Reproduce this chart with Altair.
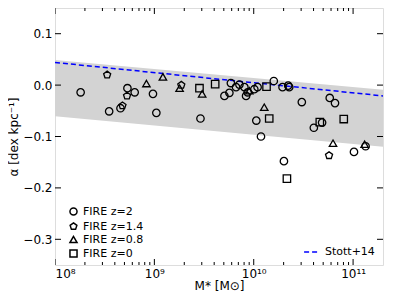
import altair as alt
import pandas as pd

# ---- data ----
circ_m = [8.258, 8.545, 8.659, 8.729, 8.802, 8.986, 9.020, 9.464, 9.705, 9.755,
          9.770, 9.822, 9.856, 9.906, 9.923, 9.939, 10.006, 10.039, 10.026, 10.073,
          10.202, 10.290, 10.347, 10.357, 10.304, 10.484, 10.765, 10.818, 10.605,
          10.688, 11.009, 11.126]
circ_a = [-0.014, -0.051, -0.045, -0.006, -0.014, -0.017, -0.054, -0.065, -0.021, -0.015,
          0.004, -0.004, 0.001, -0.004, -0.021, -0.014, -0.008, -0.004, -0.069, -0.100,
          0.008, -0.004, -0.001, -0.004, -0.148, -0.033, -0.025, -0.035, -0.083,
          -0.073, -0.130, -0.119]

pent_m = [8.525, 8.725, 8.679, 9.271, 10.758]
pent_a = [0.020, -0.021, -0.040, 0.000, -0.137]

tri_m = [8.920, 9.086, 9.254, 9.481, 9.956, 10.106, 10.798, 11.116]
tri_a = [0.003, 0.016, -0.006, -0.017, -0.011, -0.043, -0.113, -0.115]

sq_m = [9.454, 9.612, 10.129, 10.156, 10.334, 10.665, 10.906]
sq_a = [-0.006, 0.002, -0.003, -0.065, -0.182, -0.072, -0.066]

labels = ["FIRE z=2", "FIRE z=1.4", "FIRE z=0.8", "FIRE z=0"]

band_x = [1e8, 2e11]
band_lo = [-0.0605, -0.120]
band_hi = [0.049, -0.009]

stott_x = [1e8, 2e11]
stott_a = [0.044, -0.021]

x_major = [1e8, 1e9, 1e10, 1e11]
x_minor = [k * 10 ** d for d in (8, 9, 10, 11) for k in range(2, 10) if k * 10 ** d < 2e11]
y_major = [-0.3, -0.2, -0.1, 0.0, 0.1]

# ---- tables ----
rows = []
for lab, ms, As in zip(labels, [circ_m, pent_m, tri_m, sq_m], [circ_a, pent_a, tri_a, sq_a]):
    for m, a in zip(ms, As):
        rows.append({"M": 10 ** m, "alpha": a, "set": lab})
pts = pd.DataFrame(rows)
band = pd.DataFrame({"M": band_x, "lo": band_lo, "hi": band_hi})
line = pd.DataFrame({"M": stott_x, "alpha": stott_a, "name": "Stott+14"})
xmaj = pd.DataFrame({"M": x_major})
xmin = pd.DataFrame({"M": x_minor})
ymaj = pd.DataFrame({"alpha": y_major})

W, H = 328, 257
FONT = "DejaVu Sans"
xscale = alt.Scale(type="log", domain=[1e8, 2e11], nice=False)
yscale = alt.Scale(domain=[-0.35, 0.15], nice=False, zero=False)

pent_path = "M0,-1L0.951,-0.309L0.588,0.809L-0.588,0.809L-0.951,-0.309Z"

xaxis = alt.Axis(values=x_major, ticks=False, domain=False, grid=False,
                 labelExpr="datum.value == 1e8 ? '10⁸' : datum.value == 1e9 ? '10⁹' : datum.value == 1e10 ? '10¹⁰' : '10¹¹'",
                 labelFont=FONT, labelFontSize=12, labelColor="black", labelPadding=3,
                 title="M* [M⊙]", titleFont=FONT, titleFontSize=12, titleFontWeight="normal",
                 titleColor="black", titlePadding=1)
yaxis = alt.Axis(values=y_major, ticks=False, domain=False, grid=False,
                 labelExpr="replace(format(datum.value, '.1f'), '-', '−')",
                 labelFont=FONT, labelFontSize=12, labelColor="black", labelPadding=3,
                 title="α [dex kpc⁻¹]", titleFont=FONT, titleFontSize=12, titleFontWeight="normal",
                 titleColor="black", titlePadding=2)

bandl = alt.Chart(band).mark_area(color="#d3d3d3", opacity=1).encode(
    x=alt.X("M:Q", scale=xscale, axis=xaxis),
    y=alt.Y("lo:Q", scale=yscale, axis=yaxis),
    y2="hi:Q",
)

linel = alt.Chart(line).mark_line(strokeDash=[5, 3], strokeWidth=1.5).encode(
    x=alt.X("M:Q", scale=xscale),
    y=alt.Y("alpha:Q", scale=yscale),
    color=alt.Color("name:N", scale=alt.Scale(domain=["Stott+14"], range=["#0000ff"]),
                    legend=alt.Legend(title=None, orient="bottom-right", offset=6,
                                      symbolType="stroke", symbolDash=[5, 3],
                                      symbolStrokeWidth=1.5, symbolSize=250,
                                      labelFont=FONT, labelFontSize=11, labelColor="black",
                                      padding=2)),
)

ptsl = alt.Chart(pts).mark_point(filled=False, color="black", strokeWidth=1.3, size=55, opacity=1).encode(
    x=alt.X("M:Q", scale=xscale),
    y=alt.Y("alpha:Q", scale=yscale),
    shape=alt.Shape("set:N", scale=alt.Scale(domain=labels,
                                              range=["circle", pent_path, "triangle-up", "square"]),
                    legend=alt.Legend(title=None, orient="none", legendX=11, legendY=196,
                                      symbolStrokeColor="black", symbolFillColor="transparent",
                                      symbolStrokeWidth=1.5, symbolSize=50, rowPadding=0,
                                      labelFont=FONT, labelFontSize=11, labelColor="black",
                                      padding=2)),
)

tick_style = dict(color="black", strokeWidth=1, clip=True)
xb_major = alt.Chart(xmaj).mark_rule(**tick_style).encode(
    x=alt.X("M:Q", scale=xscale), y=alt.value(H), y2=alt.value(H - 6))
xt_major = alt.Chart(xmaj).mark_rule(**tick_style).encode(
    x=alt.X("M:Q", scale=xscale), y=alt.value(0), y2=alt.value(6))
xb_minor = alt.Chart(xmin).mark_rule(**tick_style).encode(
    x=alt.X("M:Q", scale=xscale), y=alt.value(H), y2=alt.value(H - 3))
xt_minor = alt.Chart(xmin).mark_rule(**tick_style).encode(
    x=alt.X("M:Q", scale=xscale), y=alt.value(0), y2=alt.value(3))
yl_major = alt.Chart(ymaj).mark_rule(**tick_style).encode(
    y=alt.Y("alpha:Q", scale=yscale), x=alt.value(0), x2=alt.value(6))
yr_major = alt.Chart(ymaj).mark_rule(**tick_style).encode(
    y=alt.Y("alpha:Q", scale=yscale), x=alt.value(W), x2=alt.value(W - 6))

chart = alt.layer(bandl, linel, ptsl, xb_major, xt_major, xb_minor, xt_minor, yl_major, yr_major).properties(
    width=W, height=H,
    autosize=alt.AutoSizeParams(type="none"),
    padding={"left": 47, "top": 0, "right": 8, "bottom": 33},
).configure_view(stroke="black", strokeWidth=1.5).configure(background="white")

chart.save("out.html", embed_options={"renderer": "svg", "actions": False})
